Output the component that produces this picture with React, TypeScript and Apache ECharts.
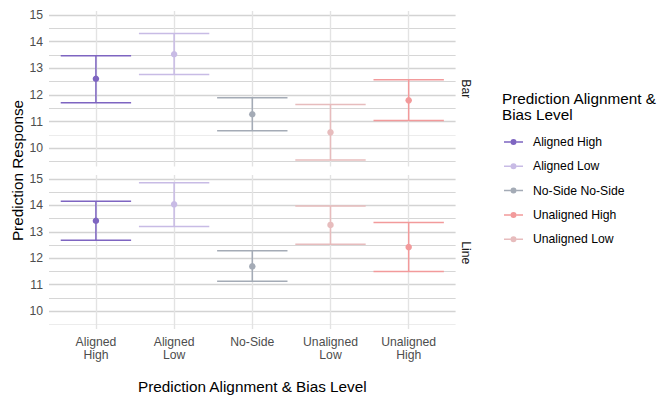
import React, { useEffect, useRef } from "react";
import * as echarts from "echarts";

// ---- data ----
const categories = ["Aligned High", "Aligned Low", "No-Side", "Unaligned Low", "Unaligned High"];
const tickLabels = ["Aligned\nHigh", "Aligned\nLow", "No-Side", "Unaligned\nLow", "Unaligned\nHigh"];
const legendNames = ["Aligned High", "Aligned Low", "No-Side No-Side", "Unaligned Low", "Unaligned High"];
const legendOrder = ["Aligned High", "Aligned Low", "No-Side No-Side", "Unaligned High", "Unaligned Low"];
const colors = ["#7e65c1", "#c8bbe5", "#a4abb6", "#e7bcbd", "#f29a9b"];

const panels = ["Bar", "Line"];
const barMean = [12.61, 13.53, 11.28, 10.6, 11.8];
const barLower = [11.71, 12.77, 10.66, 9.56, 11.04];
const barUpper = [13.47, 14.31, 11.9, 11.64, 12.57];
const lineMean = [13.42, 14.04, 11.69, 13.26, 12.42];
const lineLower = [12.68, 13.2, 11.13, 12.53, 11.5];
const lineUpper = [14.16, 14.86, 12.28, 13.98, 13.35];

const yTicks = [10, 11, 12, 13, 14, 15];
const yMinorTicks = [9.5, 10.5, 11.5, 12.5, 13.5, 14.5];
const lightMinor = [[10.5], [9.5]];
const xPositions = [1, 2, 3, 4, 5];

const means = [barMean, lineMean];
const lowers = [barLower, lineLower];
const uppers = [barUpper, lineUpper];

const FONT = "Liberation Sans, Arial, Helvetica, sans-serif";
const CAP_WIDTH = 0.9;
const Y_MIN = 9.32;
const Y_MAX = 15.15;

const legendIcon =
  "path://M0,9.25L6.5,9.25L6.5,10.75L0,10.75Z M12.5,9.25L19,9.25L19,10.75L12.5,10.75Z M6.5,10A3,3,0,1,1,12.5,10A3,3,0,1,1,6.5,10Z";

function renderErrorbar(params: any, api: any) {
  const x = api.value(0);
  const lo = api.value(1);
  const hi = api.value(2);
  const pLo = api.coord([x, lo]);
  const pHi = api.coord([x, hi]);
  const halfW = api.size([CAP_WIDTH / 2, 0])[0];
  const style = { stroke: api.visual("color"), lineWidth: 1.5, fill: null };
  return {
    type: "group",
    children: [
      { type: "line", shape: { x1: pLo[0], y1: pLo[1], x2: pHi[0], y2: pHi[1] }, style },
      { type: "line", shape: { x1: pHi[0] - halfW, y1: pHi[1], x2: pHi[0] + halfW, y2: pHi[1] }, style },
      { type: "line", shape: { x1: pLo[0] - halfW, y1: pLo[1], x2: pLo[0] + halfW, y2: pLo[1] }, style },
    ],
  };
}

export default function App() {
  const ref = useRef<HTMLDivElement>(null);
  useEffect(() => {
    if (!ref.current) return;
    const chart = echarts.init(ref.current, null, { renderer: "svg" });

    const grids = [
      { left: 49, top: 11, width: 406.6, height: 155.5 },
      { left: 49, top: 175, width: 406.6, height: 155.5 },
    ];

    const xAxes = panels.map((_, p) => ({
      type: "value",
      gridIndex: p,
      min: 0.4,
      max: 5.6,
      axisLine: { show: false },
      axisTick: { show: false, customValues: xPositions },
      splitLine: { show: false },
      axisLabel: {
        show: p === 1,
        customValues: xPositions,
        formatter: (v: number) =>
          Math.abs(v - Math.round(v)) < 1e-6 && v >= 1 && v <= 5 ? tickLabels[Math.round(v) - 1] : "",
        color: "#4d4d4d",
        fontFamily: FONT,
        fontSize: 12.2,
        lineHeight: 13,
        margin: 6,
      },
      name: p === 1 ? "Prediction Alignment & Bias Level" : "",
      nameLocation: "middle",
      nameGap: 50,
      nameTextStyle: { color: "#000", fontFamily: FONT, fontSize: 15.3 },
    }));

    const yAxes = panels.map((_, p) => ({
      type: "value",
      gridIndex: p,
      min: Y_MIN,
      max: Y_MAX,
      axisLine: { show: false },
      axisTick: { show: false, customValues: yTicks },
      splitLine: { show: false },
      axisLabel: {
        customValues: yTicks,
        formatter: (v: number) => (Math.abs(v - Math.round(v)) < 1e-6 ? String(Math.round(v)) : ""),
        color: "#4d4d4d",
        fontFamily: FONT,
        fontSize: 12.2,
        margin: 6,
      },
    }));

    const series: any[] = [];
    panels.forEach((_, p) => {
      const lines: any[] = [];
      yTicks.forEach((v) =>
        lines.push({ yAxis: v, lineStyle: { color: "#d3d3d3", width: 1.3, type: "solid" } })
      );
      yMinorTicks.forEach((v) => {
        const light = lightMinor[p].includes(v);
        lines.push({
          yAxis: v,
          lineStyle: light
            ? { color: "#ececec", width: 1, type: "solid" }
            : { color: "#d6d6d6", width: 1.2, type: "solid" },
        });
      });
      xPositions.forEach((v) =>
        lines.push({ xAxis: v, lineStyle: { color: "#e3e3e3", width: 1.4, type: "solid" } })
      );
      series.push({
        type: "line",
        name: "grid" + p,
        xAxisIndex: p,
        yAxisIndex: p,
        data: [],
        z: 0,
        silent: true,
        markLine: {
          silent: true,
          z: 0,
          symbol: ["none", "none"],
          label: { show: false },
          emphasis: { disabled: true },
          animation: false,
          data: lines,
        },
      });
    });

    categories.forEach((_, i) => {
      panels.forEach((__, p) => {
        series.push({
          type: "scatter",
          name: legendNames[i],
          xAxisIndex: p,
          yAxisIndex: p,
          symbol: "circle",
          symbolSize: 6.5,
          itemStyle: { color: colors[i], opacity: 1 },
          emphasis: { disabled: true },
          z: 6,
          data: [[xPositions[i], means[p][i]]],
        });
      });
    });
    categories.forEach((_, i) => {
      panels.forEach((__, p) => {
        series.push({
          type: "custom",
          name: legendNames[i],
          xAxisIndex: p,
          yAxisIndex: p,
          renderItem: renderErrorbar,
          itemStyle: { color: colors[i] },
          encode: { x: 0, y: [1, 2] },
          emphasis: { disabled: true },
          z: 5,
          data: [[xPositions[i], lowers[p][i], uppers[p][i]]],
        });
      });
    });

    chart.setOption({
      animation: false,
      textStyle: { fontFamily: FONT },
      grid: grids,
      xAxis: xAxes,
      yAxis: yAxes,
      title: {
        text: "Prediction Alignment &\nBias Level",
        left: 502,
        top: 91,
        padding: 0,
        textStyle: { color: "#000", fontFamily: FONT, fontSize: 15.3, fontWeight: "normal", lineHeight: 15.5 },
      },
      legend: {
        orient: "vertical",
        left: 504,
        top: 135,
        padding: 0,
        itemWidth: 19,
        itemHeight: 6,
        itemGap: 10.3,
        selectedMode: false,
        data: legendOrder.map((n) => ({ name: n, icon: legendIcon })),
        textStyle: { color: "#000", fontFamily: FONT, fontSize: 12.2, lineHeight: 14, padding: [0, 0, 0, 5] },
      },
      graphic: [
        {
          type: "text",
          x: 17,
          y: 170.5,
          rotation: Math.PI / 2,
          style: {
            text: "Prediction Response",
            fill: "#000",
            font: `15.3px ${FONT}`,
            align: "center",
            verticalAlign: "middle",
          },
        },
        ...panels.map((name, p) => ({
          type: "text",
          x: 466,
          y: grids[p].top + grids[p].height / 2,
          rotation: -Math.PI / 2,
          style: {
            text: name,
            fill: "#1a1a1a",
            font: `12.2px ${FONT}`,
            align: "center",
            verticalAlign: "middle",
          },
        })),
      ],
      series,
    });
    return () => chart.dispose();
  }, []);
  return (
    <div
      ref={ref}
      style={{ position: "fixed", left: 0, top: 0, width: 657, height: 395, background: "#fff" }}
    />
  );
}
